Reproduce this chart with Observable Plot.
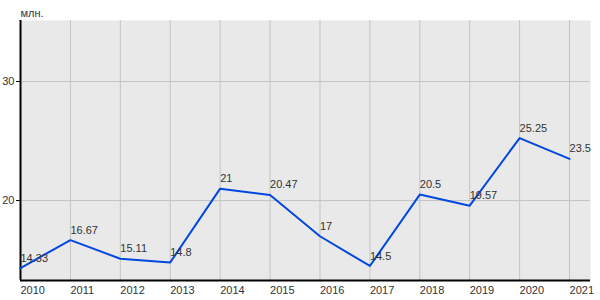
<!DOCTYPE html>
<html><head><meta charset="utf-8">
<script src="https://cdn.jsdelivr.net/npm/d3@7"></script>
<script src="https://cdn.jsdelivr.net/npm/@observablehq/plot@0.6"></script>
<style>body{margin:0;background:#fff;} svg{font-family:"Liberation Sans",Arial,sans-serif;}</style>
</head><body><div id="chart"></div>
<script>
const years = [2010,2011,2012,2013,2014,2015,2016,2017,2018,2019,2020,2021];
const values = [14.33,16.67,15.11,14.8,21,20.47,17,14.5,20.5,19.57,25.25,23.5];
const valueLabels = ["14.33","16.67","15.11","14.8","21","20.47","17","14.5","20.5","19.57","25.25","23.5"];
const yTicks = [20,30];
const unitLabel = "млн.";
const data = years.map((y,i)=>({year:y, value:values[i], label:valueLabels[i]}));
const yMin = 13.28, yMax = 35.13;
const chart = Plot.plot({
  width:600, height:300,
  marginLeft:20, marginRight:10, marginTop:20, marginBottom:20,
  style:{fontFamily:"Liberation Sans, Arial, sans-serif", fontSize:"11px", color:"#333", background:"#fff"},
  x:{type:"linear", domain:[2010,2021.42]},
  y:{domain:[yMin,yMax]},
  marks:[
    Plot.frame({fill:"#e9e9e9", stroke:null}),
    Plot.gridX(years,{stroke:"#c4c4c4", strokeOpacity:1, strokeWidth:1}),
    Plot.gridY(yTicks,{stroke:"#c4c4c4", strokeOpacity:1, strokeWidth:1}),
    Plot.axisX(years,{tickSize:0, tickPadding:6, textAnchor:"start", tickFormat:d=>String(d), fill:"#333", label:null}),
    Plot.axisY(yTicks,{tickSize:4, tickPadding:2, fill:"#333", stroke:"#000", label:null}),
    Plot.ruleX([2010],{stroke:"#000", strokeWidth:2}),
    Plot.ruleY([yMin],{stroke:"#000", strokeWidth:2}),
    Plot.line(data,{x:"year", y:"value", stroke:"#0048e0", strokeWidth:2}),
    Plot.text(data,{x:"year", y:"value", text:"label", textAnchor:"start", dy:-10, fill:"#333", fontSize:11}),
    Plot.text([unitLabel],{frameAnchor:"top-left", lineAnchor:"bottom", dy:-4, textAnchor:"start", fill:"#333", fontSize:11})
  ]
});
document.getElementById("chart").appendChild(chart);
</script></body></html>
